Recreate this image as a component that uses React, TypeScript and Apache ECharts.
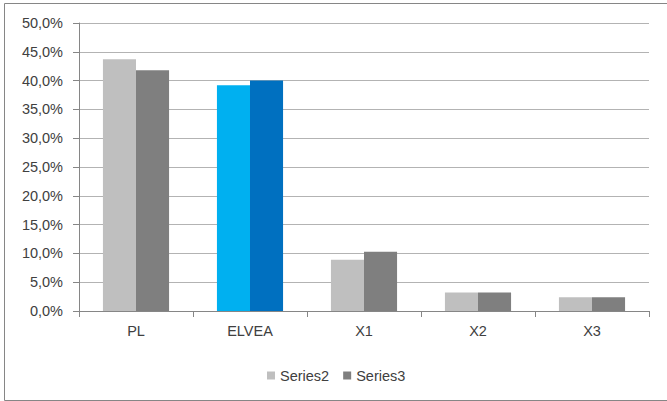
import React, { useEffect, useRef } from "react";
import * as echarts from "echarts";

const categories = ["PL", "ELVEA", "X1", "X2", "X3"];
const series2 = [43.7, 39.2, 8.9, 3.2, 2.4];
const series3 = [41.8, 40.0, 10.3, 3.2, 2.4];
const seriesNames = ["Series2", "Series3"];
const highlightIndex = 1;

export default function App() {
  const ref = useRef<HTMLDivElement>(null);
  useEffect(() => {
    if (!ref.current) return;
    const chart = echarts.init(ref.current, undefined, { renderer: "svg" });
    const font = "'Liberation Sans', Arial, sans-serif";
    const mk = (vals: number[], hl: string) =>
      vals.map((v, i) =>
        i === highlightIndex ? { value: v, itemStyle: { color: hl } } : { value: v }
      );
    chart.setOption({
      animation: false,
      backgroundColor: "#ffffff",
      textStyle: { fontFamily: font },
      graphic: [
        {
          type: "polyline",
          shape: { points: [[670, 3.5], [4.5, 3.5], [4.5, 400.5], [670, 400.5]] },
          style: { stroke: "#868686", lineWidth: 1, fill: "none" },
          silent: true,
        },
      ],
      grid: { left: 79, right: 18, top: 23, bottom: 90, containLabel: false },
      legend: {
        data: seriesNames,
        left: 262,
        top: 363,
        itemWidth: 8,
        itemHeight: 8,
        itemGap: 14,
        icon: "rect",
        textStyle: { color: "#404040", fontSize: 14.5, fontFamily: font },
      },
      xAxis: {
        type: "category",
        data: categories,
        axisLine: { lineStyle: { color: "#868686" } },
        axisTick: { show: true, length: 6, lineStyle: { color: "#868686" } },
        axisLabel: { color: "#404040", fontSize: 14.5, margin: 12, fontFamily: font },
      },
      yAxis: {
        type: "value",
        min: 0,
        max: 50,
        interval: 5,
        axisLine: { show: true, lineStyle: { color: "#868686" } },
        axisTick: { show: true, length: 6, lineStyle: { color: "#868686" } },
        axisLabel: {
          color: "#404040",
          fontSize: 14.5,
          margin: 16,
          fontFamily: font,
          formatter: (v: number) => v.toFixed(1).replace(".", ",") + "%",
        },
        splitLine: { lineStyle: { color: "#b3b3b3", width: 1 } },
      },
      series: [
        {
          name: seriesNames[0],
          type: "bar",
          data: mk(series2, "#00b0f0"),
          itemStyle: { color: "#bfbfbf" },
          barGap: "0%",
          barCategoryGap: "42%",
        },
        {
          name: seriesNames[1],
          type: "bar",
          data: mk(series3, "#0070c0"),
          itemStyle: { color: "#7f7f7f" },
          barGap: "0%",
          barCategoryGap: "42%",
        },
      ],
    });
    return () => chart.dispose();
  }, []);
  return (
    <div
      ref={ref}
      style={{ position: "fixed", left: 0, top: 0, width: 667, height: 401 }}
    />
  );
}
